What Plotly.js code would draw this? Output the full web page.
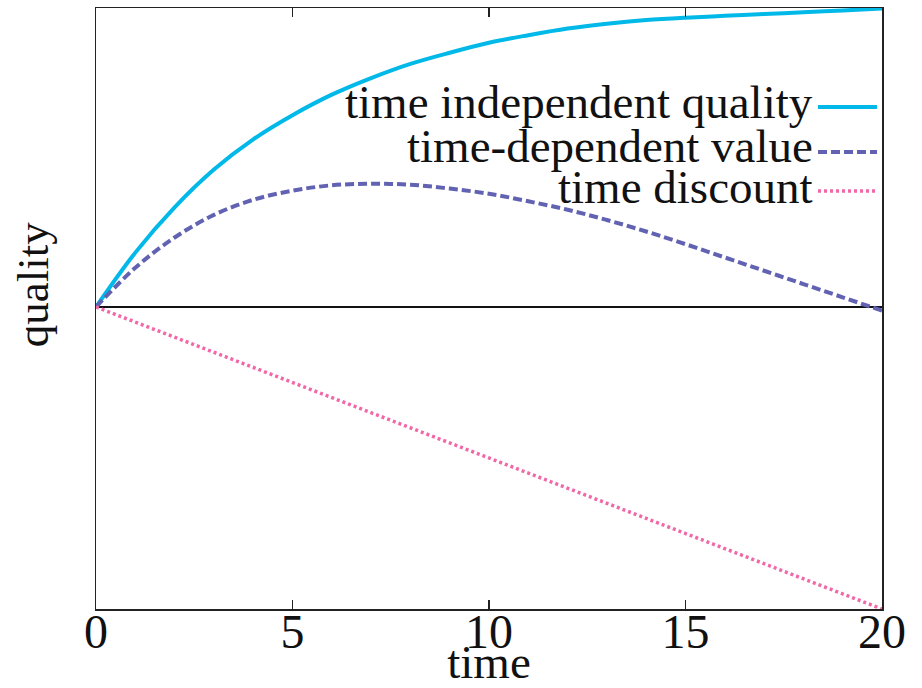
<!DOCTYPE html>
<html>
<head>
<meta charset="utf-8">
<script src="https://cdn.plot.ly/plotly-3.0.1.min.js"></script>
<style>
  html, body { margin: 0; padding: 0; background: #ffffff; }
  #chart { width: 922px; height: 688px; }
</style>
</head>
<body>
<div id="chart"></div>
<script>
// ---- data ----
var time = [0, 1, 2, 3, 4, 5, 6, 7, 8, 9, 10, 11, 12, 13, 14, 15, 16, 17, 18, 19, 20];
var qualityIndependent = [0, 0.18, 0.33, 0.455, 0.555, 0.635, 0.703, 0.758, 0.805, 0.842, 0.875, 0.90, 0.922, 0.938, 0.95, 0.958, 0.964, 0.97, 0.976, 0.982, 0.988];
var valueDependent = [0, 0.13, 0.23, 0.305, 0.355, 0.385, 0.403, 0.408, 0.405, 0.392, 0.375, 0.35, 0.322, 0.288, 0.25, 0.208, 0.164, 0.12, 0.076, 0.032, -0.012];
var timeDiscount = [0, -0.05, -0.1, -0.15, -0.2, -0.25, -0.3, -0.35, -0.4, -0.45, -0.5, -0.55, -0.6, -0.65, -0.7, -0.75, -0.8, -0.85, -0.9, -0.95, -1.0];
var seriesNames = ["time independent quality", "time-dependent value", "time discount"];
var xTickVals = [0, 5, 10, 15, 20];
var xTickText = ["0", "5", "10", "15", "20"];

var FONT = "'Liberation Serif', 'Times New Roman', serif";
var colors = ["#00b9e8", "#6262b2", "#f068a8"];
var dashes = ["solid", "9px,4px", "3px,3px"];
var widths = [4, 4, 3.5];

var traces = [
  { x: time, y: qualityIndependent, name: seriesNames[0], mode: "lines",
    line: { color: colors[0], width: widths[0], dash: dashes[0], shape: "spline" } },
  { x: time, y: valueDependent, name: seriesNames[1], mode: "lines",
    line: { color: colors[1], width: widths[1], dash: dashes[1], shape: "spline" } },
  { x: time, y: timeDiscount, name: seriesNames[2], mode: "lines",
    line: { color: colors[2], width: widths[2], dash: dashes[2] } }
];

// legend drawn gnuplot-style: right-aligned text, sample line on the right
var legendTextY = [0.8436, 0.7704, 0.7022];
var legendLineY = [0.8353, 0.7604, 0.6955];
var annotations = [];
var shapes = [];
for (var i = 0; i < seriesNames.length; i++) {
  annotations.push({
    xref: "paper", yref: "paper", x: 0.915, y: legendTextY[i],
    xanchor: "right", yanchor: "middle", showarrow: false,
    text: seriesNames[i], font: { family: FONT, size: 47, color: "#111" }
  });
  shapes.push({
    type: "line", xref: "paper", yref: "paper",
    x0: 0.9186, x1: 0.9936, y0: legendLineY[i], y1: legendLineY[i],
    line: { color: colors[i], width: widths[i], dash: dashes[i] }
  });
}
// y-axis title placed like the reference (above the vertical centre)
annotations.push({
  xref: "paper", yref: "paper", x: -0.0793, y: 0.540,
  xanchor: "center", yanchor: "middle", showarrow: false, textangle: -90,
  text: "quality", font: { family: FONT, size: 45, color: "#111" }
});

var layout = {
  width: 922, height: 688,
  margin: { l: 96, r: 40, t: 8, b: 79 },
  paper_bgcolor: "#ffffff", plot_bgcolor: "#ffffff",
  showlegend: false,
  font: { family: FONT, size: 48, color: "#111" },
  xaxis: {
    range: [0, 20], tickvals: xTickVals, ticktext: xTickText,
    ticks: "inside", ticklen: 9, tickwidth: 1.5, tickcolor: "#222",
    ticklabelstandoff: -20,
    showline: true, linecolor: "#222", linewidth: 1.5, mirror: "ticks",
    showgrid: false, zeroline: false,
    tickfont: { family: FONT, size: 48, color: "#111" },
    title: { text: "time", font: { family: FONT, size: 47, color: "#111" } }
  },
  yaxis: {
    range: [-1, 0.99], showticklabels: false, ticks: "",
    showline: true, linecolor: "#222", linewidth: 1.5, mirror: true,
    showgrid: false, zeroline: true, zerolinecolor: "#111", zerolinewidth: 1.5
  },
  annotations: annotations,
  shapes: shapes
};

Plotly.newPlot("chart", traces, layout, { staticPlot: true, displayModeBar: false });
</script>
</body>
</html>
